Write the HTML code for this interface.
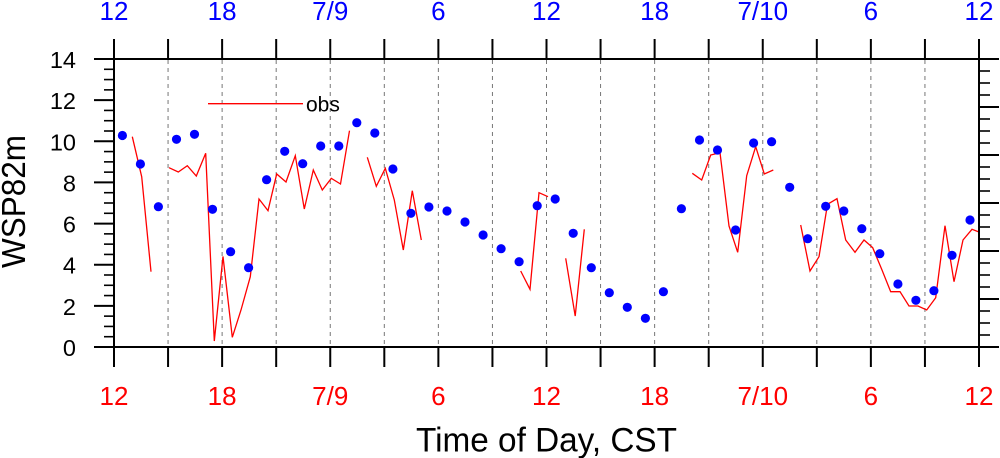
<!DOCTYPE html>
<html>
<head>
<meta charset="utf-8">
<style>
html,body{margin:0;padding:0;background:#fff;}
svg{display:block;}
text{font-family:"Liberation Sans",Arial,Helvetica,sans-serif;}
</style>
</head>
<body>
<svg width="1000" height="458" viewBox="0 0 1000 458" xmlns="http://www.w3.org/2000/svg">
<rect x="0" y="0" width="1000" height="458" fill="#fff"/>
<g stroke="#777" stroke-width="1" stroke-dasharray="4 4">
<line x1="168.06" y1="60" x2="168.06" y2="346"/>
<line x1="222.12" y1="60" x2="222.12" y2="346"/>
<line x1="276.19" y1="60" x2="276.19" y2="346"/>
<line x1="330.25" y1="60" x2="330.25" y2="346"/>
<line x1="384.31" y1="60" x2="384.31" y2="346"/>
<line x1="438.37" y1="60" x2="438.37" y2="346"/>
<line x1="492.44" y1="60" x2="492.44" y2="346"/>
<line x1="546.5" y1="60" x2="546.5" y2="346"/>
<line x1="600.56" y1="60" x2="600.56" y2="346"/>
<line x1="654.62" y1="60" x2="654.62" y2="346"/>
<line x1="708.69" y1="60" x2="708.69" y2="346"/>
<line x1="762.75" y1="60" x2="762.75" y2="346"/>
<line x1="816.81" y1="60" x2="816.81" y2="346"/>
<line x1="870.87" y1="60" x2="870.87" y2="346"/>
<line x1="924.94" y1="60" x2="924.94" y2="346"/>
</g>
<g fill="none" stroke="#ff0000" stroke-width="1.3">
<polyline points="132.3,136.7 141.7,176.7 151,271.7"/>
<polyline points="169,167.7 178.3,172 187.3,165.7 196.3,176 205.7,153.3 214.3,341 223,256.5 232.3,337.3 241,310 250.3,276.7 259,199 268,210.7 276.7,174 286,182 295.3,155.7 304.3,209 313.3,170 322.3,190 331.3,178.3 340.5,184 349.5,130.7"/>
<polyline points="367.3,157.3 376.3,186.3 385.3,168.3 394.3,200 403.3,250 412.3,190.7 421.3,240"/>
<polyline points="520.7,271 530,289.3 539,192.7 548,196.7"/>
<polyline points="565.7,258.3 575.2,316 584.3,229.3"/>
<polyline points="692.3,173.3 701.7,180 710.7,155 720,152.7 729,226 737.7,252.3 746.7,175.7 755.7,146.7 764.3,174 773.3,170"/>
<polyline points="800.7,225 810,271 819,256.7 827.5,204.3 837,198.7 845.7,240 855,252.3 864,240 872.7,247.7 881.7,269.3 890.7,291.7 900,291.7 909,306 918,306 926.7,310 935.7,297.7 945,225.7 954,281.7 963,240 972,229.3 979,232"/>
</g>
<g fill="#0000ff">
<circle cx="122.4" cy="135.5" r="4.6"/>
<circle cx="140.4" cy="164" r="4.6"/>
<circle cx="158.4" cy="206.7" r="4.6"/>
<circle cx="176.5" cy="139.3" r="4.6"/>
<circle cx="194.5" cy="134.3" r="4.6"/>
<circle cx="212.5" cy="209.3" r="4.6"/>
<circle cx="230.6" cy="251.7" r="4.6"/>
<circle cx="248.6" cy="267.7" r="4.6"/>
<circle cx="266.6" cy="179.7" r="4.6"/>
<circle cx="284.7" cy="151.3" r="4.6"/>
<circle cx="302.7" cy="163.7" r="4.6"/>
<circle cx="320.7" cy="146" r="4.6"/>
<circle cx="338.8" cy="146" r="4.6"/>
<circle cx="356.8" cy="122.7" r="4.6"/>
<circle cx="374.8" cy="133" r="4.6"/>
<circle cx="392.9" cy="169" r="4.6"/>
<circle cx="410.9" cy="213.3" r="4.6"/>
<circle cx="428.9" cy="207" r="4.6"/>
<circle cx="447" cy="211" r="4.6"/>
<circle cx="465" cy="222" r="4.6"/>
<circle cx="483.1" cy="235" r="4.6"/>
<circle cx="501.1" cy="248.7" r="4.6"/>
<circle cx="519.1" cy="261.7" r="4.6"/>
<circle cx="537.2" cy="205.7" r="4.6"/>
<circle cx="555.2" cy="199" r="4.6"/>
<circle cx="573.2" cy="233.3" r="4.6"/>
<circle cx="591.3" cy="267.7" r="4.6"/>
<circle cx="609.3" cy="292.7" r="4.6"/>
<circle cx="627.3" cy="307.3" r="4.6"/>
<circle cx="645.4" cy="318.3" r="4.6"/>
<circle cx="663.4" cy="291.7" r="4.6"/>
<circle cx="681.4" cy="208.7" r="4.6"/>
<circle cx="699.5" cy="140" r="4.6"/>
<circle cx="717.5" cy="150" r="4.6"/>
<circle cx="735.6" cy="230" r="4.6"/>
<circle cx="753.6" cy="143" r="4.6"/>
<circle cx="771.6" cy="141.7" r="4.6"/>
<circle cx="789.7" cy="187.3" r="4.6"/>
<circle cx="807.7" cy="238.7" r="4.6"/>
<circle cx="825.7" cy="206.3" r="4.6"/>
<circle cx="843.8" cy="211" r="4.6"/>
<circle cx="861.8" cy="228.7" r="4.6"/>
<circle cx="879.8" cy="253.7" r="4.6"/>
<circle cx="897.9" cy="284" r="4.6"/>
<circle cx="915.9" cy="300.3" r="4.6"/>
<circle cx="933.9" cy="290.7" r="4.6"/>
<circle cx="952" cy="255.3" r="4.6"/>
<circle cx="970" cy="220" r="4.6"/>
</g>
<rect x="114" y="59" width="865" height="288" fill="none" stroke="#000" stroke-width="2"/>
<g stroke="#000" stroke-width="2">
<line x1="114" y1="39" x2="114" y2="59"/><line x1="114" y1="347" x2="114" y2="367"/>
<line x1="168.06" y1="39" x2="168.06" y2="59"/><line x1="168.06" y1="347" x2="168.06" y2="367"/>
<line x1="222.12" y1="39" x2="222.12" y2="59"/><line x1="222.12" y1="347" x2="222.12" y2="367"/>
<line x1="276.19" y1="39" x2="276.19" y2="59"/><line x1="276.19" y1="347" x2="276.19" y2="367"/>
<line x1="330.25" y1="39" x2="330.25" y2="59"/><line x1="330.25" y1="347" x2="330.25" y2="367"/>
<line x1="384.31" y1="39" x2="384.31" y2="59"/><line x1="384.31" y1="347" x2="384.31" y2="367"/>
<line x1="438.37" y1="39" x2="438.37" y2="59"/><line x1="438.37" y1="347" x2="438.37" y2="367"/>
<line x1="492.44" y1="39" x2="492.44" y2="59"/><line x1="492.44" y1="347" x2="492.44" y2="367"/>
<line x1="546.5" y1="39" x2="546.5" y2="59"/><line x1="546.5" y1="347" x2="546.5" y2="367"/>
<line x1="600.56" y1="39" x2="600.56" y2="59"/><line x1="600.56" y1="347" x2="600.56" y2="367"/>
<line x1="654.62" y1="39" x2="654.62" y2="59"/><line x1="654.62" y1="347" x2="654.62" y2="367"/>
<line x1="708.69" y1="39" x2="708.69" y2="59"/><line x1="708.69" y1="347" x2="708.69" y2="367"/>
<line x1="762.75" y1="39" x2="762.75" y2="59"/><line x1="762.75" y1="347" x2="762.75" y2="367"/>
<line x1="816.81" y1="39" x2="816.81" y2="59"/><line x1="816.81" y1="347" x2="816.81" y2="367"/>
<line x1="870.87" y1="39" x2="870.87" y2="59"/><line x1="870.87" y1="347" x2="870.87" y2="367"/>
<line x1="924.94" y1="39" x2="924.94" y2="59"/><line x1="924.94" y1="347" x2="924.94" y2="367"/>
<line x1="979" y1="39" x2="979" y2="59"/><line x1="979" y1="347" x2="979" y2="367"/>
</g>
<g stroke="#000" stroke-width="2">
<line x1="94" y1="59" x2="114" y2="59"/>
<line x1="94" y1="100.14" x2="114" y2="100.14"/>
<line x1="94" y1="141.29" x2="114" y2="141.29"/>
<line x1="94" y1="182.43" x2="114" y2="182.43"/>
<line x1="94" y1="223.57" x2="114" y2="223.57"/>
<line x1="94" y1="264.71" x2="114" y2="264.71"/>
<line x1="94" y1="305.86" x2="114" y2="305.86"/>
<line x1="94" y1="347" x2="114" y2="347"/>
</g>
<g stroke="#000" stroke-width="1.6">
<line x1="104" y1="69.29" x2="114" y2="69.29"/><line x1="104" y1="79.57" x2="114" y2="79.57"/><line x1="104" y1="89.86" x2="114" y2="89.86"/>
<line x1="104" y1="110.43" x2="114" y2="110.43"/><line x1="104" y1="120.71" x2="114" y2="120.71"/><line x1="104" y1="131" x2="114" y2="131"/>
<line x1="104" y1="151.57" x2="114" y2="151.57"/><line x1="104" y1="161.86" x2="114" y2="161.86"/><line x1="104" y1="172.14" x2="114" y2="172.14"/>
<line x1="104" y1="192.71" x2="114" y2="192.71"/><line x1="104" y1="203" x2="114" y2="203"/><line x1="104" y1="213.29" x2="114" y2="213.29"/>
<line x1="104" y1="233.86" x2="114" y2="233.86"/><line x1="104" y1="244.14" x2="114" y2="244.14"/><line x1="104" y1="254.43" x2="114" y2="254.43"/>
<line x1="104" y1="275" x2="114" y2="275"/><line x1="104" y1="285.29" x2="114" y2="285.29"/><line x1="104" y1="295.57" x2="114" y2="295.57"/>
<line x1="104" y1="316.14" x2="114" y2="316.14"/><line x1="104" y1="326.43" x2="114" y2="326.43"/><line x1="104" y1="336.71" x2="114" y2="336.71"/>
</g>
<g stroke="#000" stroke-width="2">
<line x1="979" y1="59" x2="999" y2="59"/>
<line x1="979" y1="107" x2="999" y2="107"/>
<line x1="979" y1="155" x2="999" y2="155"/>
<line x1="979" y1="203" x2="999" y2="203"/>
<line x1="979" y1="251" x2="999" y2="251"/>
<line x1="979" y1="299" x2="999" y2="299"/>
<line x1="979" y1="347" x2="999" y2="347"/>
</g>
<g stroke="#000" stroke-width="1.6">
<line x1="979" y1="71" x2="990" y2="71"/><line x1="979" y1="83" x2="990" y2="83"/><line x1="979" y1="95" x2="990" y2="95"/>
<line x1="979" y1="119" x2="990" y2="119"/><line x1="979" y1="131" x2="990" y2="131"/><line x1="979" y1="143" x2="990" y2="143"/>
<line x1="979" y1="167" x2="990" y2="167"/><line x1="979" y1="179" x2="990" y2="179"/><line x1="979" y1="191" x2="990" y2="191"/>
<line x1="979" y1="215" x2="990" y2="215"/><line x1="979" y1="227" x2="990" y2="227"/><line x1="979" y1="239" x2="990" y2="239"/>
<line x1="979" y1="263" x2="990" y2="263"/><line x1="979" y1="275" x2="990" y2="275"/><line x1="979" y1="287" x2="990" y2="287"/>
<line x1="979" y1="311" x2="990" y2="311"/><line x1="979" y1="323" x2="990" y2="323"/><line x1="979" y1="335" x2="990" y2="335"/>
</g>
<g font-size="23.5" fill="#000" text-anchor="end">
<text x="76" y="68">14</text>
<text x="76" y="109.1">12</text>
<text x="76" y="150.3">10</text>
<text x="76" y="191.4">8</text>
<text x="76" y="232.6">6</text>
<text x="76" y="273.7">4</text>
<text x="76" y="314.9">2</text>
<text x="76" y="356">0</text>
</g>
<g font-size="26" fill="#0000ff" text-anchor="middle">
<text x="114" y="20">12</text>
<text x="222.12" y="20">18</text>
<text x="330.25" y="20">7/9</text>
<text x="438.37" y="20">6</text>
<text x="546.5" y="20">12</text>
<text x="654.62" y="20">18</text>
<text x="762.75" y="20">7/10</text>
<text x="870.87" y="20">6</text>
<text x="979" y="20">12</text>
</g>
<g font-size="26" fill="#ff0000" text-anchor="middle">
<text x="114" y="405">12</text>
<text x="222.12" y="405">18</text>
<text x="330.25" y="405">7/9</text>
<text x="438.37" y="405">6</text>
<text x="546.5" y="405">12</text>
<text x="654.62" y="405">18</text>
<text x="762.75" y="405">7/10</text>
<text x="870.87" y="405">6</text>
<text x="979" y="405">12</text>
</g>
<line x1="208" y1="103.7" x2="303" y2="103.7" stroke="#ff0000" stroke-width="1.3"/>
<text x="306" y="111.5" font-size="21" fill="#000">obs</text>
<text x="416" y="451.5" font-size="34" fill="#000" textLength="261" lengthAdjust="spacingAndGlyphs">Time of Day, CST</text>
<text transform="translate(25,268) rotate(-90)" x="0" y="0" font-size="33" fill="#000" textLength="133" lengthAdjust="spacingAndGlyphs">WSP82m</text>
</svg>
</body>
</html>
